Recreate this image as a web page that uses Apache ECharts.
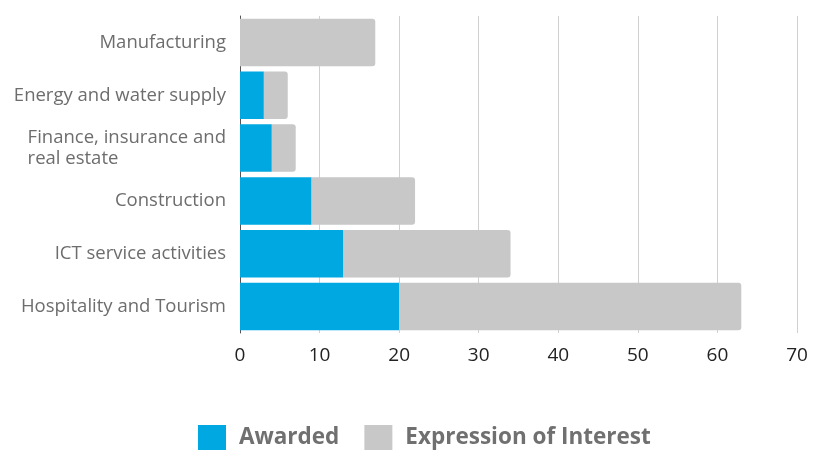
<!DOCTYPE html>
<html>
<head>
<meta charset="utf-8">
<script src="https://cdn.jsdelivr.net/npm/echarts@6/dist/echarts.min.js"></script>
<style>html,body{margin:0;padding:0;background:#fff}#c{width:813px;height:450px}</style>
</head>
<body>
<div id="c"></div>
<script>
// Categories listed bottom to top (ECharts category y-axis starts at bottom)
const categories = ["Hospitality and Tourism", "ICT service activities", "Construction", "Finance, insurance and\nreal estate", "Energy and water supply", "Manufacturing"];
const awarded = [20, 13, 9, 4, 3, 0];
const expressionOfInterest = [43, 21, 13, 3, 3, 17];
const xTicks = [0, 10, 20, 30, 40, 50, 60, 70];

const chart = echarts.init(document.getElementById('c'));
chart.setOption({
  animation: false,
  textStyle: { fontFamily: 'Open Sans' },
  grid: { left: 240, right: 16, top: 16, bottom: 117, containLabel: false },
  xAxis: {
    type: 'value', min: 0, max: 70, interval: 10,
    axisLine: { show: false }, axisTick: { show: false },
    splitLine: { show: true, lineStyle: { color: '#d0d0d0', width: 1 } },
    axisLabel: { color: '#222', fontSize: 19, margin: 13,
      formatter: v => xTicks.includes(v) ? String(v) : '' }
  },
  yAxis: {
    type: 'category', data: categories,
    axisLine: { show: true, lineStyle: { color: '#555', width: 1 } },
    axisTick: { show: false },
    axisLabel: {
      color: '#6d6d6d', fontSize: 18.5, margin: 14, lineHeight: 21,
      formatter: v => v.split('\n').map(s => '{l|' + s + '}').join('\n'),
      rich: { l: { align: 'left', color: '#6d6d6d', fontSize: 18.5, lineHeight: 21, fontFamily: 'Open Sans' } }
    }
  },
  legend: {
    top: 425, left: 198, padding: 0, itemWidth: 28, itemHeight: 25, itemGap: 25,
    icon: 'rect',
    textStyle: { color: '#707070', fontSize: 22.5, fontWeight: 'bold', fontFamily: 'Open Sans', padding: [0, 0, 0, 8] },
    data: ['Awarded', 'Expression of Interest']
  },
  series: [
    { name: 'Awarded', type: 'bar', stack: 't', data: awarded, barCategoryGap: '10%',
      itemStyle: { color: '#00a8e1' } },
    { name: 'Expression of Interest', type: 'bar', stack: 't', data: expressionOfInterest, barCategoryGap: '10%',
      itemStyle: { color: '#c9c8c9', borderRadius: [0, 3, 3, 0] } }
  ]
});
</script>
</body>
</html>
